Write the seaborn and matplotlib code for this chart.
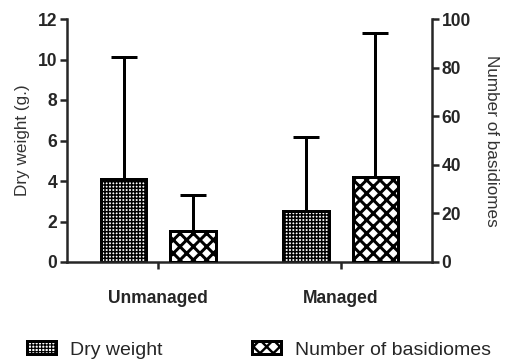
import matplotlib
matplotlib.use("Agg")
import matplotlib.pyplot as plt
import matplotlib.patches as mpatches
import seaborn as sns
import pandas as pd

categories = ["Unmanaged", "Managed"]
series = ["Dry weight", "Number of basidiomes"]
dry_weight = [4.1, 2.5]
dry_weight_err = [6.0, 3.65]
basidiomes = [12.9, 35.1]
basidiomes_err = [14.8, 59.3]
left_ticks = [0, 2, 4, 6, 8, 10, 12]
right_ticks = [0, 20, 40, 60, 80, 100]

sns.set_style("ticks")
plt.rcParams["font.family"] = ["Liberation Sans", "DejaVu Sans"]

DPI = 120
fig = plt.figure(figsize=(512 / DPI, 362 / DPI), dpi=DPI)
ax1 = fig.add_axes([67 / 512, 1 - 262 / 362, (432 - 67) / 512, (262 - 19) / 362])
ax2 = ax1.twinx()

df_dry = pd.DataFrame({"Site": categories, "Series": series[0], "Value": dry_weight, "Err": dry_weight_err})
df_bas = pd.DataFrame({"Site": categories, "Series": series[1], "Value": basidiomes, "Err": basidiomes_err})

pal = {s: "white" for s in series}
hatches = {series[0]: "++++++", series[1]: "xxx"}
hatch_lw = {series[0]: 0.9, series[1]: 1.8}
edge_lw = 1.8

for ax, df in [(ax1, df_dry), (ax2, df_bas)]:
    sname = df["Series"].iloc[0]
    plt.rcParams["hatch.linewidth"] = hatch_lw[sname]
    sns.barplot(data=df, x="Site", y="Value", hue="Series", hue_order=series,
                order=categories, palette=pal, width=0.76, gap=0.34, dodge=True,
                errorbar=None, legend=False, edgecolor="black", linewidth=edge_lw,
                ax=ax, zorder=2)
    bars = sorted([p for p in ax.patches if p.get_height() == p.get_height() and p.get_height() > 0],
                  key=lambda p: p.get_x())
    for p, err in zip(bars, df["Err"]):
        p.set_hatch(hatches[sname])
        try:
            p.set_hatch_linewidth(hatch_lw[sname])
        except AttributeError:
            pass
        cx = p.get_x() + p.get_width() / 2
        ax.errorbar([cx], [p.get_height()], yerr=[[0], [err]], fmt="none",
                    ecolor="black", elinewidth=edge_lw, capsize=8, capthick=edge_lw, zorder=1)

ax1.set_ylim(0, 12)
ax2.set_ylim(0, 100)
ax1.set_xlim(-0.5, 1.5)
ax1.set_yticks(left_ticks, labels=[str(t) for t in left_ticks], fontsize=10.5, fontweight="bold")
ax2.set_yticks(right_ticks, labels=[str(t) for t in right_ticks], fontsize=10.5, fontweight="bold")
ax1.set_xticks(range(len(categories)), labels=categories, fontsize=10.5, fontweight="bold")

for sp in ["top", "right"]:
    ax1.spines[sp].set_visible(False)
for sp in ["top", "left", "bottom"]:
    ax2.spines[sp].set_visible(False)
for sp in ["left", "bottom"]:
    ax1.spines[sp].set_linewidth(1.5)
ax2.spines["right"].set_linewidth(1.5)

ax1.tick_params(axis="y", length=4.2, width=1.5, pad=1.5)
ax2.tick_params(axis="y", length=4.2, width=1.5, pad=1.5)
ax1.tick_params(axis="x", length=4.2, width=1.5, pad=12.5)

ax1.set_xlabel("")
ax1.set_ylabel("Dry weight (g.)", fontsize=10.3, color="#333333", labelpad=5)
ax2.set_ylabel("Number of basidiomes", fontsize=10.3, color="#333333", rotation=270, labelpad=17)

handles = [mpatches.Patch(facecolor="white", edgecolor="black", hatch=hatches[s],
                          linewidth=edge_lw, label=s) for s in series]
leg = fig.legend(handles=handles, loc="center left", bbox_to_anchor=(27 / 512, 12 / 362), ncol=2,
                 frameon=False, fontsize=11.7, handlelength=1.5, handleheight=0.6,
                 handletextpad=0.7, columnspacing=4.6, borderpad=0, borderaxespad=0)
for p, s in zip(leg.get_patches(), series):
    try:
        p.set_hatch_linewidth(hatch_lw[s] * 0.8)
    except AttributeError:
        pass

fig.savefig("out.png", dpi=DPI)
